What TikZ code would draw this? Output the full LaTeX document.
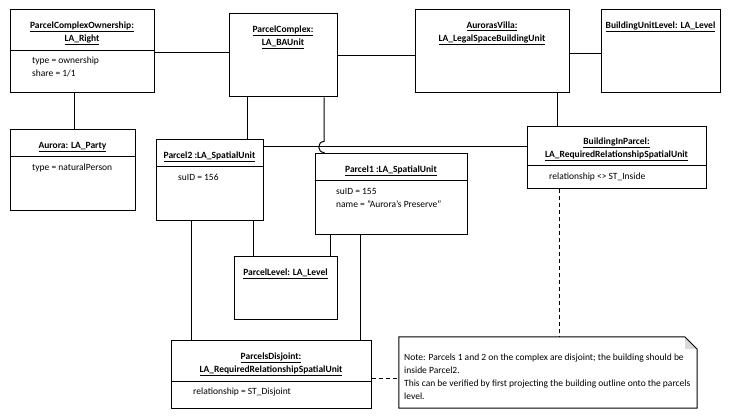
\documentclass[tikz,border=0pt]{standalone}
\usepackage{fontspec}
\setmainfont{Carlito}
\begin{document}
\begin{tikzpicture}[x=1pt,y=-1pt,
  boxst/.style={draw, line width=1pt, inner sep=0pt, rectangle},
  conn/.style={line width=1pt},
  dconn/.style={line width=1pt, dash pattern=on 4pt off 3pt},
  ttl/.style={inner sep=0pt, anchor=mid, font=\fontsize{9.5}{11}\selectfont\bfseries},
  attr/.style={inner sep=0pt, anchor=mid west, font=\fontsize{9.5}{11}\selectfont},
  notetxt/.style={inner sep=0pt, anchor=mid west, font=\fontsize{9.5}{11}\selectfont}
]
\newcommand\umlbox[5]{%
  \node[boxst, minimum width={(#4-#2)*1pt}, minimum height={(#5-#3)*1pt}] (#1) at ({(#2+#4)/2},{(#3+#5)/2}) {};}
\newcommand\divider[2]{\draw[conn] (#1.west |- 0,#2) -- (#1.east |- 0,#2);}
\useasboundingbox (0,0) rectangle (731,419);

% boxes
\umlbox{pco}{10}{10}{154}{93}
\umlbox{pc}{229}{14}{337}{97}
\umlbox{av}{415}{10}{569}{93}
\umlbox{bul}{601}{10}{720}{93}
\umlbox{aur}{10}{130}{135}{211}
\umlbox{ptwo}{156}{140}{263}{221}
\umlbox{pone}{315}{154}{467}{235}
\umlbox{bip}{527}{127}{706}{189}
\umlbox{pl}{234}{257}{337}{320}
\umlbox{pd}{171}{341}{371}{409}
\node[inner sep=0pt, minimum width=298pt, minimum height=71pt] (note) at (548,372.5) {};

\divider{pco}{51}
\divider{aur}{157}
\divider{ptwo}{167}
\divider{pone}{181}
\divider{bip}{166}
\divider{pd}{382}

% note shape
\fill[gray!30] (685,337) -- (697,349) -- (685,349) -- cycle;
\draw[conn, line join=miter] (note.north west) -- (685,337) -- (697,349) -- (note.south east) -- (note.south west) -- cycle;

% titles
\node[ttl] (tpco1) at (82,26) {\underline{ParcelComplexOwnership:}};
\node[ttl] (tpco2) at (82,39) {\underline{LA\_Right}};
\node[ttl] (tpc1) at (283,30) {\underline{ParcelComplex:}};
\node[ttl] (tpc2) at (283,43) {\underline{LA\_BAUnit}};
\node[ttl] (tav1) at (492,26) {\underline{AurorasVilla:}};
\node[ttl] (tav2) at (492,39) {\underline{LA\_LegalSpaceBuildingUnit}};
\node[ttl] (tbul) at (660.5,26) {\underline{BuildingUnitLevel: LA\_Level}};
\node[ttl] (taur) at (72.5,146) {\underline{Aurora: LA\_Party}};
\node[ttl] (tp2) at (209.5,156) {\underline{Parcel2 :LA\_SpatialUnit}};
\node[ttl] (tp1) at (391,170) {\underline{Parcel1 :LA\_SpatialUnit}};
\node[ttl] (tbip1) at (616.5,142) {\underline{BuildingInParcel:}};
\node[ttl] (tbip2) at (616.5,155) {\underline{LA\_RequiredRelationshipSpatialUnit}};
\node[ttl] (tpl) at (285.5,273) {\underline{ParcelLevel: LA\_Level}};
\node[ttl] (tpd1) at (271,357) {\underline{ParcelsDisjoint:}};
\node[ttl] (tpd2) at (271,370) {\underline{LA\_RequiredRelationshipSpatialUnit}};

% attributes
\node[attr] (apco1) at (32,61) {type = ownership};
\node[attr] (apco2) at (32,74) {share = 1/1};
\node[attr] (aaur) at (32,168) {type = naturalPerson};
\node[attr] (ap2) at (178,178) {suID = 156};
\node[attr] (ap1a) at (336,192) {suID = 155};
\node[attr] (ap1b) at (336,205) {name = "Aurora's Preserve"};
\node[attr] (abip) at (549,177) {relationship <> ST\_Inside};
\node[attr] (apd) at (193,392) {relationship = ST\_Disjoint};

% note text
\node[notetxt] (n1) at (404,358) {Note: Parcels 1 and 2 on the complex are disjoint; the building should be};
\node[notetxt] (n2) at (404,371) {inside Parcel2.};
\node[notetxt] (n3) at (404,384) {This can be verified by first projecting the building outline onto the parcels};
\node[notetxt] (n4) at (404,397) {level.};

% connectors
\draw[conn] (pco.east |- 0,53) -- (pc.west |- 0,53);
\draw[conn] (pc.east |- 0,56) -- (av.west |- 0,56);
\draw[conn] (av.east |- 0,54) -- (bul.west |- 0,54);
\draw[conn] (pco.south -| 74,0) -- (aur.north -| 74,0);
\draw[conn] (pc.south -| 247,0) -- (ptwo.north -| 247,0);
\draw[conn] (ptwo.east |- 0,147) -- (bip.west |- 0,147);
\draw[conn] (pc.south -| 324,0) -- (324,141.5) .. controls (317,141.5) and (317,152.5) .. (324,152.5) -- (pone.north -| 324,0);
\draw[conn] (av.south -| 557,0) -- (bip.north -| 557,0);
\draw[conn] (ptwo.south -| 253,0) -- (pl.north -| 253,0);
\draw[conn] (pone.south -| 330,0) -- (pl.north -| 330,0);
\draw[conn] (ptwo.south -| 191,0) -- (pd.north -| 191,0);
\draw[conn] (pone.south -| 360,0) -- (pd.north -| 360,0);
\draw[dconn] (bip.south -| 559,0) -- (note.north -| 559,0);
\draw[dconn] (pd.east |- 0,379) -- (note.west |- 0,379);
\end{tikzpicture}
\end{document}
